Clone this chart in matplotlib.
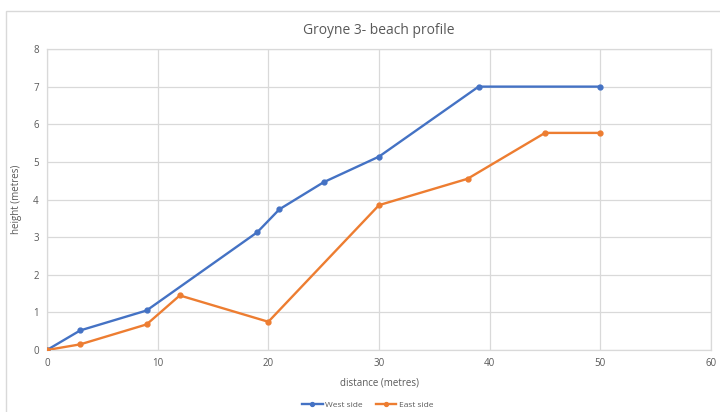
import matplotlib.pyplot as plt
from matplotlib.patches import Rectangle

plt.rcParams['font.family'] = ['Open Sans', 'DejaVu Sans']

# beach profile measurements, distance (m) vs height (m)
west_dist = [0, 3, 9, 19, 21, 25, 30, 39, 50]
west_height = [0, 0.52, 1.05, 3.13, 3.74, 4.46, 5.14, 7.0, 7.0]
east_dist = [0, 3, 9, 12, 20, 30, 38, 45, 50]
east_height = [0, 0.15, 0.68, 1.45, 0.75, 3.85, 4.55, 5.77, 5.77]

x_ticks = [0, 10, 20, 30, 40, 50, 60]
y_ticks = [0, 1, 2, 3, 4, 5, 6, 7, 8]

blue = "#4472C4"
orange = "#ED7D31"
text_col = "#595959"
grid_col = "#D9D9D9"

fig = plt.figure(figsize=(7.2, 4.12), dpi=100)

# chart area outline
fig.patches.append(Rectangle((6 / 720, -0.05), 1.0, (412 - 11) / 412 + 0.05,
                             transform=fig.transFigure, fill=False,
                             edgecolor="#D9D9D9", linewidth=1.0))

ax = fig.add_axes([47 / 720, 62 / 412, 664 / 720, 301 / 412])

ax.plot(west_dist, west_height, color=blue, linewidth=1.7, marker="o",
        markersize=3.5, label="West side", zorder=3)
ax.plot(east_dist, east_height, color=orange, linewidth=1.7, marker="o",
        markersize=3.5, label="East side", zorder=3)

ax.set_xlim(0, 60)
ax.set_ylim(0, 8)
ax.set_xticks(x_ticks)
ax.set_yticks(y_ticks)
ax.grid(True, color=grid_col, linewidth=0.9)
ax.set_axisbelow(True)
ax.tick_params(length=0, labelsize=7, colors=text_col, pad=6)

for side in ax.spines.values():
    side.set_color(grid_col)
    side.set_linewidth(0.9)

ax.set_title("Groyne 3- beach profile", fontsize=10, color=text_col, pad=11)
ax.set_xlabel("distance (metres)", fontsize=7, color=text_col, labelpad=6)
ax.set_ylabel("height (metres)", fontsize=7, color=text_col, labelpad=8)

ax.legend(loc="upper center", bbox_to_anchor=(0.483, -0.145), ncol=2,
          frameon=False, fontsize=6, labelcolor=text_col, handlelength=2.5,
          handletextpad=0.3, columnspacing=1.5, markerscale=0.8)

plt.savefig("out.png", dpi=100)
